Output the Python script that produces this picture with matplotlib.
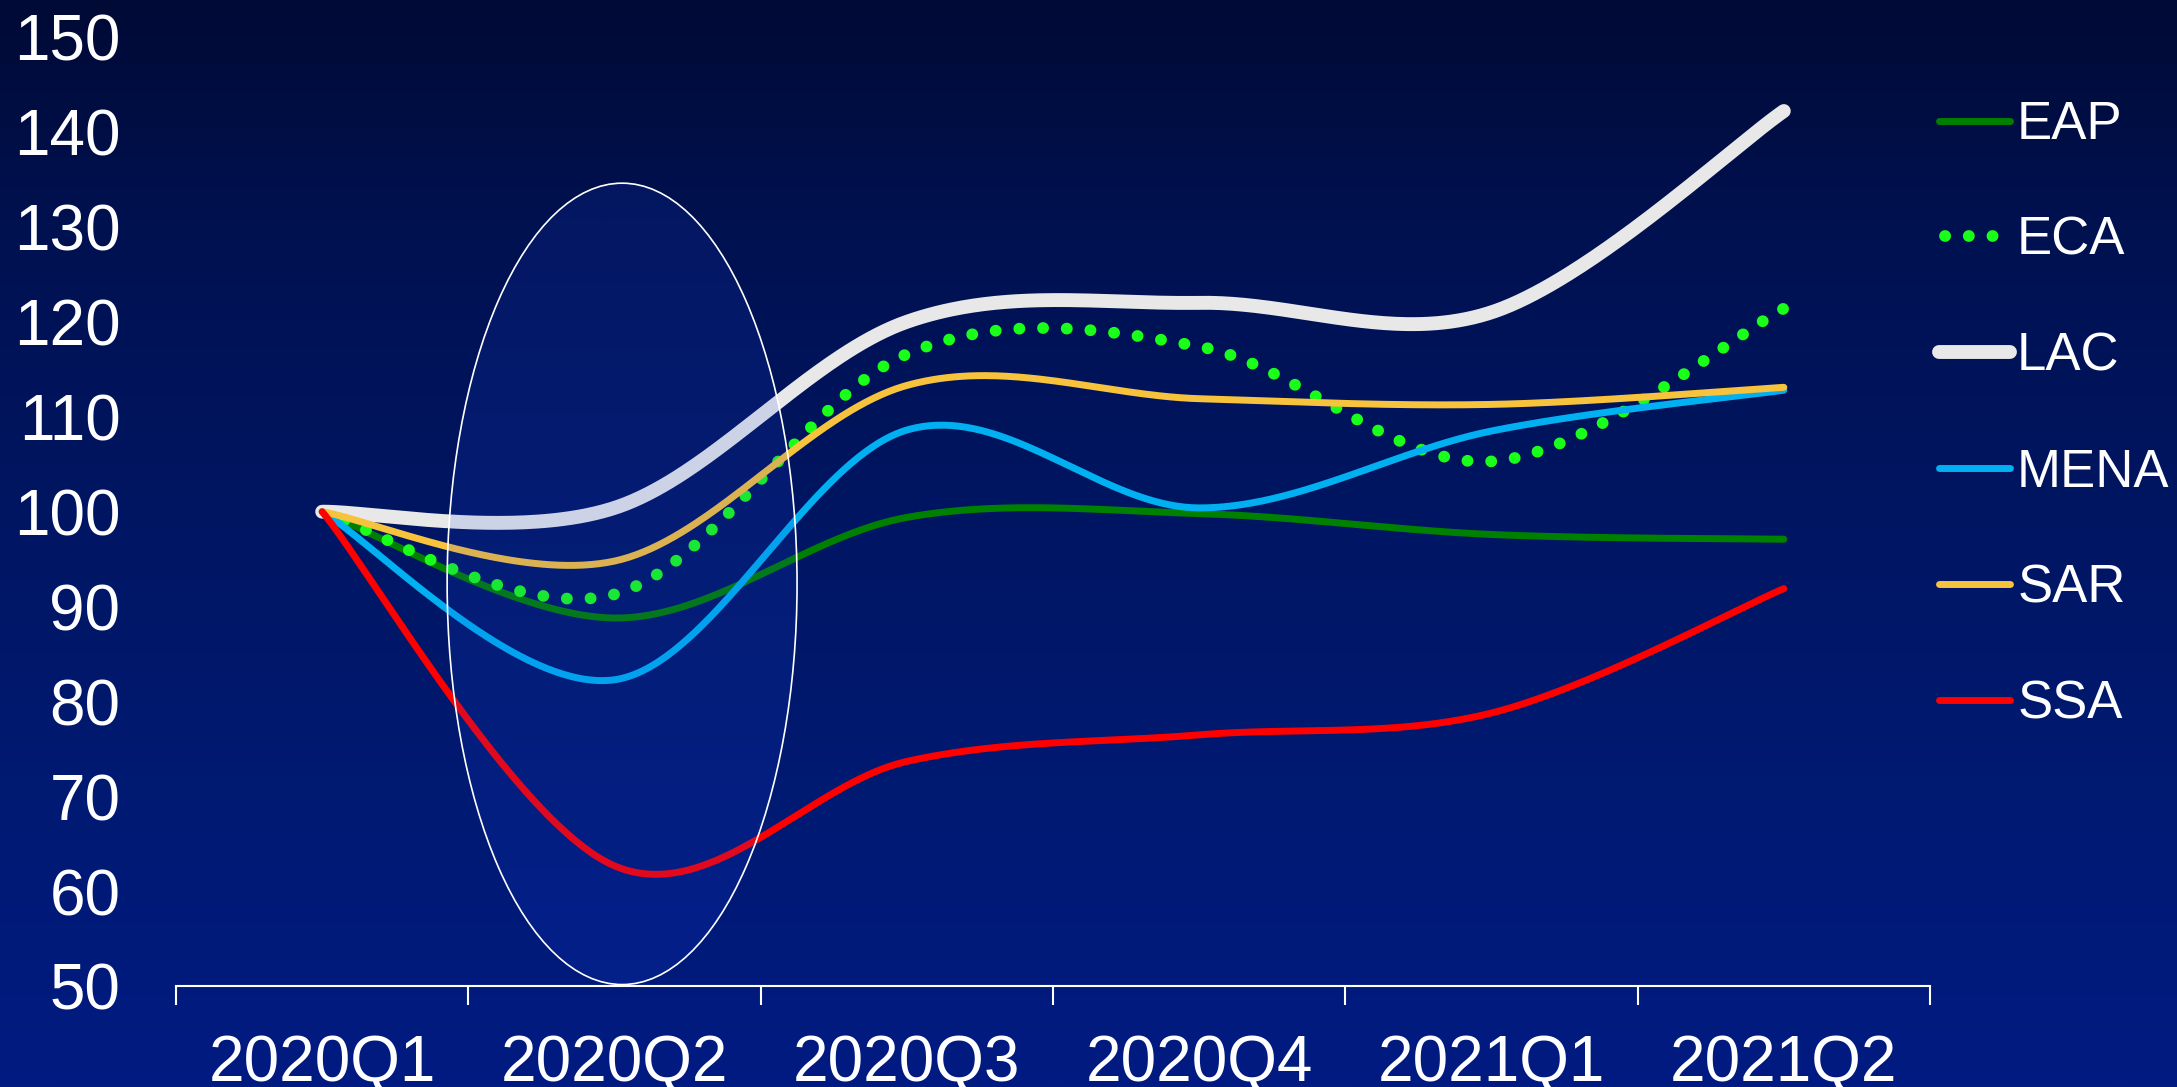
import numpy as np
import matplotlib
matplotlib.use("Agg")
import matplotlib.pyplot as plt
from matplotlib.patches import Ellipse
from matplotlib.colors import LinearSegmentedColormap

plt.rcParams["font.family"] = ["Liberation Sans", "DejaVu Sans"]

# Index values by region (2020Q1 = 100)
quarters = ["2020Q1", "2020Q2", "2020Q3", "2020Q4", "2021Q1", "2021Q2"]
eap = [100, 88.8, 99.4, 99.8, 97.6, 97.1]
eca = [100, 91.3, 116.6, 117.4, 105.3, 121.4]
lac = [100, 100.4, 120.0, 122.0, 121.0, 142.2]
mena = [100, 82.3, 108.6, 100.4, 108.5, 112.8]
sar = [100, 94.8, 113.3, 111.9, 111.3, 113.1]
ssa = [100, 62.7, 73.7, 76.5, 78.8, 91.9]
yticks = [50, 60, 70, 80, 90, 100, 110, 120, 130, 140, 150]


def smooth(values, n=80):
    """Cubic Bezier smoothing through every point (Catmull-Rom style)."""
    y = np.asarray(values, float)
    x = np.arange(len(y), dtype=float)
    xs, ys = [], []
    t = np.linspace(0, 1, n)
    for i in range(len(y) - 1):
        i0 = max(i - 1, 0)
        i3 = min(i + 2, len(y) - 1)
        c1x = x[i] + (x[i + 1] - x[i0]) / 6
        c1y = y[i] + (y[i + 1] - y[i0]) / 6
        c2x = x[i + 1] - (x[i3] - x[i]) / 6
        c2y = y[i + 1] - (y[i3] - y[i]) / 6
        b0, b1, b2, b3 = (1 - t) ** 3, 3 * (1 - t) ** 2 * t, 3 * (1 - t) * t ** 2, t ** 3
        xs.append(b0 * x[i] + b1 * c1x + b2 * c2x + b3 * x[i + 1])
        ys.append(b0 * y[i] + b1 * c1y + b2 * c2y + b3 * y[i + 1])
    return np.concatenate(xs), np.concatenate(ys)


W, H = 2177, 1087
fig = plt.figure(figsize=(W / 100, H / 100), dpi=100)

# vertical navy gradient behind everything
bg = fig.add_axes([0, 0, 1, 1], zorder=-10)
bg_cmap = LinearSegmentedColormap.from_list(
    "navy",
    [(0.0, (0 / 255, 10 / 255, 53 / 255)),
     (0.2, (0 / 255, 17 / 255, 80 / 255)),
     (0.5, (0 / 255, 22 / 255, 100 / 255)),
     (0.7, (0 / 255, 25 / 255, 112 / 255)),
     (1.0, (0 / 255, 27 / 255, 130 / 255))])
bg.imshow(np.linspace(0, 1, 512).reshape(-1, 1), aspect="auto", cmap=bg_cmap,
          extent=[0, 1, 0, 1], origin="upper")
bg.set_axis_off()

ax = fig.add_axes([176 / W, 0.0925, (1930 - 176) / W, 0.8735])
ax.set_facecolor("none")

series = [
    ("EAP", eap, dict(color="#008000", lw=5)),
    ("ECA", eca, dict(color="#1aff1a", lw=8.5, linestyle=(0, (0.01, 2.0)),
                      dash_capstyle="round")),
    ("LAC", lac, dict(color="#e8e8e8", lw=10)),
    ("MENA", mena, dict(color="#00b0f0", lw=5)),
    ("SAR", sar, dict(color="#f8c33c", lw=5)),
    ("SSA", ssa, dict(color="#ff0000", lw=5)),
]
handles = []
for name, vals, style in series:
    sx, sy = smooth(vals)
    ln, = ax.plot(sx, sy, label=name, solid_capstyle="round", zorder=3, **style)
    handles.append(ln)

# highlight around the 2020Q2 trough
ax.add_patch(Ellipse((1.026, 92.4), 1.197, 84.4,
                     facecolor=(30 / 255, 70 / 255, 230 / 255, 0.13),
                     edgecolor="white", lw=1.2, zorder=5, clip_on=False))

ax.set_xlim(-0.5, 5.5)
ax.set_ylim(50, 150)

for s in ("top", "right", "left"):
    ax.spines[s].set_visible(False)
ax.spines["bottom"].set_color("white")
ax.spines["bottom"].set_linewidth(1.5)

ax.set_xticks(np.arange(-0.5, 6, 1.0))
ax.set_xticklabels([])
ax.tick_params(axis="x", which="major", length=14, width=1.5, color="white",
               direction="out")
ax.set_xticks(np.arange(len(quarters)), minor=True)
ax.set_xticklabels(quarters, minor=True)
ax.tick_params(axis="x", which="minor", length=0, pad=34, labelsize=46,
               labelcolor="white")

ax.set_yticks(yticks)
ax.set_yticklabels([str(v) for v in yticks])
ax.tick_params(axis="y", length=0, pad=40, labelsize=46, labelcolor="white")

leg = ax.legend(handles=handles, loc="upper left",
                bbox_to_anchor=(1939 / W, 1 - 100 / H),
                bbox_transform=fig.transFigure, frameon=False, fontsize=38,
                handlelength=1.35, handletextpad=0.13, labelspacing=1.25,
                borderaxespad=0, borderpad=0)
for txt in leg.get_texts():
    txt.set_color("white")
# three evenly spaced dots in the ECA key
leg.get_lines()[1].set_linestyle((1.5, (0.01, 2.0)))

fig.savefig("out.png", dpi=100)
